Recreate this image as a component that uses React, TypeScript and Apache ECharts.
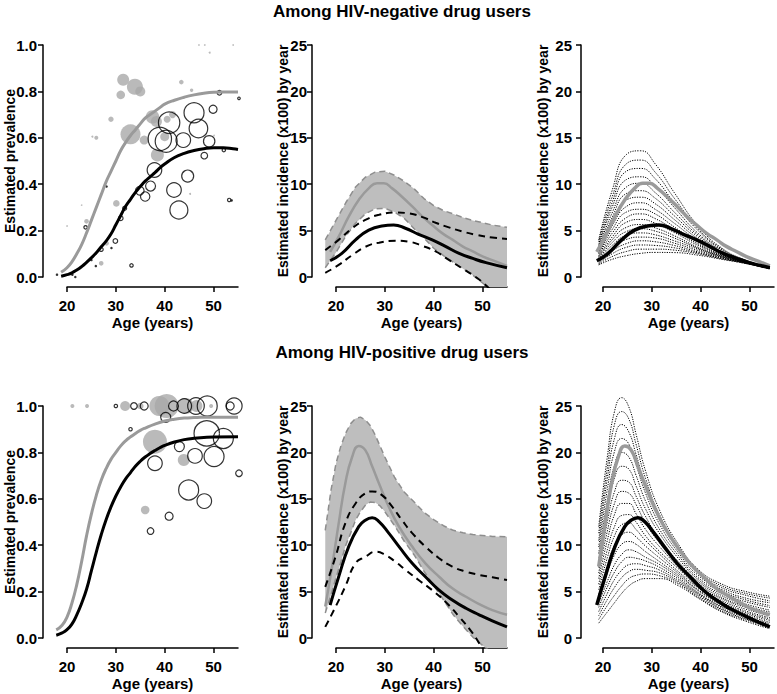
import React, { useEffect, useRef } from 'react';
import * as echarts from 'echarts';

const TITLE_TOP = 'Among HIV-negative drug users';
const TITLE_BOTTOM = 'Among HIV-positive drug users';
const X_NAME = 'Age (years)';
const Y_PREV = 'Estimated prevalence';
const Y_INC = 'Estimated incidence (x100) by year';

// ---------- Prevalence curves [age, prevalence] ----------
const NEG_PREV_GRAY = [[18.8,0.02],[20,0.04],[21,0.065],[22,0.10],[23,0.14],[24,0.19],[25,0.245],[26,0.30],[27,0.355],[28,0.41],[29,0.455],[30,0.50],[31,0.545],[32,0.58],[33,0.61],[34,0.635],[35,0.66],[36,0.685],[37,0.70],[38,0.715],[39,0.73],[40,0.745],[42,0.762],[44,0.775],[46,0.785],[48,0.792],[50,0.796],[52,0.797],[55,0.797]];
const NEG_PREV_BLACK = [[18.8,0.003],[20,0.01],[21,0.018],[22,0.03],[23,0.045],[24,0.063],[25,0.083],[26,0.105],[27,0.13],[28,0.155],[29,0.185],[30,0.225],[31,0.265],[32,0.305],[33,0.335],[34,0.365],[35,0.39],[36,0.413],[37,0.432],[38,0.45],[39,0.47],[40,0.487],[42,0.515],[44,0.533],[46,0.545],[48,0.553],[50,0.557],[52,0.557],[54,0.553],[55,0.55]];
const POS_PREV_GRAY = [[17.8,0.035],[19,0.055],[20,0.09],[21,0.15],[22,0.23],[23,0.33],[24,0.44],[25,0.535],[26,0.615],[27,0.68],[28,0.73],[29,0.77],[30,0.80],[31,0.828],[32,0.85],[33,0.867],[34,0.882],[35,0.895],[36,0.905],[38,0.922],[40,0.935],[42,0.943],[44,0.948],[46,0.95],[50,0.952],[55,0.952]];
const POS_PREV_BLACK = [[17.8,0.012],[19,0.022],[20,0.036],[21,0.06],[22,0.10],[23,0.15],[24,0.21],[25,0.29],[26,0.37],[27,0.445],[28,0.51],[29,0.565],[30,0.612],[31,0.652],[32,0.686],[33,0.713],[34,0.74],[35,0.762],[36,0.78],[37,0.795],[38,0.808],[39,0.82],[40,0.83],[42,0.845],[44,0.855],[46,0.861],[48,0.864],[50,0.866],[55,0.867]];

// ---------- Observed prevalences [age, prevalence, relative size] ----------
const NEG_OBS_GRAY = [[31.5,0.85,6],[33.9,0.82,8],[35,0.80,5],[31,0.785,4.3],[29,0.68,2.7],[33,0.615,10],[37.5,0.69,6.7],[38.3,0.67,5.5],[35.8,0.59,4.5],[38.5,0.526,6.5],[40.5,0.68,3.5],[41.6,0.70,3.5],[40,0.605,4.5],[43.4,0.84,2.3],[45.5,0.805,1.7],[26,0.60,2],[25.2,0.605,1],[30.1,0.317,3.3],[24,0.24,2.3],[28.1,0.145,2.3],[27,0.059,2.3],[49.2,0.967,1],[47,1.0,0.8],[48.2,1.0,0.8],[54,1.0,0.8],[45.2,0.358,1],[20,0.22,0.8],[23,0.31,0.8],[50.1,0.61,0.8]];
const NEG_OBS_BLACK = [[40.9,0.665,10.7],[39.0,0.595,11.7],[40.3,0.585,11],[46.0,0.708,10],[46.9,0.64,9.3],[43.8,0.59,7.3],[49.1,0.585,5.7],[49.9,0.723,4],[48.1,0.523,3.3],[37.9,0.461,7.3],[44.7,0.435,6],[41.9,0.375,7.3],[42.9,0.289,9],[37.1,0.392,5],[34.9,0.372,4.3],[36.0,0.347,4.7],[31.0,0.253,2.3],[31.8,0.296,2],[29.9,0.155,2.3],[27.0,0.119,2],[23.8,0.214,1.7],[33.2,0.05,1.7],[51.2,0.794,2.3],[52.1,0.547,1.7],[55.2,0.77,1.3],[53.2,0.332,1.7]];
const NEG_OBS_DOTS = [[17.95,0.01],[21.1,0.01],[21.7,0.0],[25,0.073],[25.9,0.047],[29.1,0.125],[28.1,0.39],[53.7,0.33]];
const POS_OBS_GRAY = [[21.1,1.0,2],[24.1,1.0,2],[31.9,1.0,5],[35.0,1.0,3.3],[38.9,1.0,10],[40.4,1.0,12],[44.3,1.0,8],[46.5,1.0,6],[49.5,1.0,2],[38.0,0.846,12],[43.9,0.767,6],[36.0,0.552,4.3]];
const POS_OBS_BLACK = [[30.0,1.0,1.7],[33.7,1.0,3.3],[35.8,1.0,4],[41.8,1.0,5],[44.0,1.0,7.3],[46.4,1.0,8.3],[48.7,1.0,10],[53.4,1.0,4],[54.2,1.0,8],[40.2,0.951,5],[33.0,0.9,1.7],[48.6,0.882,12.7],[52.0,0.86,10],[50.1,0.782,10],[46.2,0.785,7.3],[43.0,0.825,5],[38.0,0.753,7.3],[44.9,0.638,10],[48.1,0.59,7.3],[40.9,0.525,4],[37.1,0.461,3.3],[55.2,0.71,3.3]];

// ---------- Incidence, HIV-negative ----------
const NEG_INC_GRAY = [[18.8,2.7],[20.55,4.35],[22.6,6.5],[24.65,8.3],[26.7,9.55],[28.4,10.1],[29.8,10.1],[31.5,9.55],[33.5,8.65],[35.6,7.6],[37.7,6.5],[39.7,5.6],[41.8,4.7],[43.9,4.0],[45.9,3.3],[48,2.75],[50.1,2.2],[52.8,1.65],[55,1.2]];
const NEG_INC_BLACK = [[18.8,1.75],[21.2,2.55],[24,4.0],[26.7,5.05],[29.4,5.5],[31.8,5.6],[34.2,5.25],[36.9,4.6],[39.7,4.0],[42.4,3.3],[45.2,2.55],[48,2.0],[50.7,1.55],[55,1.0]];
const NEG_INC_BLACK_UP = [[17.8,2.9],[20.55,4.0],[23.3,5.25],[26,6.15],[28.8,6.7],[32.2,6.95],[34.9,6.85],[37.7,6.45],[40.4,5.85],[43.1,5.35],[45.9,4.9],[48.6,4.55],[52,4.25],[55,4.1]];
const NEG_INC_BLACK_LO = [[17.8,0.45],[20.55,1.3],[23.3,2.35],[26,3.25],[28.8,3.7],[32.2,3.9],[34.9,3.8],[37.7,3.35],[40.4,2.75],[43.1,1.85],[45.9,0.9],[48.6,0.0],[50.5,-0.8],[51.5,-1.3]];
const NEG_BAND_AGES = [17.8,20,22,24,26,28,30,32,34,36,38,40,42,44,46,48,50,52,55];
const NEG_BAND_UP = [4.0,6.1,8.0,9.7,10.75,11.3,11.4,10.95,10.3,9.5,8.45,7.7,7.15,6.8,6.4,6.1,5.85,5.6,5.35];
const NEG_BAND_LO = [1.0,2.65,4.4,5.8,6.8,7.35,7.4,7.0,6.3,5.2,4.2,3.1,2.3,1.6,0.9,0.2,-0.65,-1.5,-2.8];

// ---------- Incidence, HIV-positive ----------
const POS_INC_GRAY = [[17.8,3.4],[19.2,7.7],[20.55,12.35],[21.9,16.65],[23.3,19.5],[24.65,20.7],[26,20.25],[27.4,18.5],[28.8,16.65],[30.8,14.15],[32.9,12.0],[35.6,9.85],[38.3,8.05],[41.1,6.6],[43.8,5.35],[46.6,4.45],[49.3,3.65],[52,3.0],[55,2.5]];
const POS_INC_BLACK = [[18.8,3.55],[20.55,6.6],[22.6,9.85],[24.65,12.0],[26,12.7],[27.4,12.95],[28.8,12.55],[30.8,11.3],[32.9,9.85],[35.6,8.05],[38.3,6.6],[41.1,5.15],[43.8,4.1],[46.6,3.2],[49.3,2.5],[52,1.85],[55,1.2]];
const POS_INC_BLACK_UP = [[17.8,5.5],[19.9,8.75],[21.9,12.35],[24,14.5],[26,15.6],[27.4,15.8],[29.4,15.4],[31.5,14.15],[33.5,12.7],[35.6,11.3],[38.3,9.85],[41.1,8.6],[43.8,7.7],[46.6,7.15],[49.3,6.8],[52,6.55],[55,6.25]];
const POS_INC_BLACK_LO = [[17.8,1.2],[19.9,3.35],[21.9,5.55],[24,8.05],[26,8.75],[28.1,9.3],[30.1,8.95],[32.2,8.2],[34.2,7.35],[36.9,6.25],[39.7,5.15],[42.4,3.9],[45.2,2.3],[48,0.5],[49.3,-0.55],[50.3,-1.3]];
const POS_BAND_AGES = [17.8,19,20,21,22,23,24,25,26,27,28,29,30,32,34,36,38,40,42,44,46,48,50,52,55];
const POS_BAND_UP = [11.6,16.0,18.8,20.7,22.1,23.1,23.65,23.8,23.5,22.9,21.9,20.7,19.5,17.3,15.7,14.65,13.55,12.75,12.1,11.6,11.35,11.15,11.05,10.95,10.9];
const POS_BAND_LO = [2.7,4.7,6.5,8.2,10.0,11.3,12.7,13.6,14.3,14.65,14.6,14.25,13.6,12.1,10.4,8.95,7.2,5.65,4.1,2.5,1.25,0.1,-0.8,-1.6,-3.0];

// ---------- Simulated incidence curves (dotted) ----------
const NEG_FAN_AGES = [19.2,22,25,28,31,35,40,45,50,55];
const NEG_FAN = [
  [4.0,9.3,13.2,13.6,12.2,9.1,5.5,3.1,1.8,1.0],
  [3.8,8.6,12.2,12.6,11.3,8.5,5.2,3.0,1.8,1.0],
  [3.5,8.0,11.4,11.7,10.6,8.0,5.0,2.9,1.7,1.0],
  [3.3,7.5,10.5,10.8,9.8,7.5,4.7,2.8,1.7,1.0],
  [3.1,6.9,9.7,10.1,9.1,7.0,4.5,2.7,1.7,1.0],
  [3.0,6.4,9.0,9.3,8.5,6.6,4.3,2.6,1.7,1.0],
  [2.8,6.0,8.3,8.6,7.9,6.2,4.1,2.6,1.6,1.0],
  [2.6,5.5,7.6,8.0,7.3,5.8,3.9,2.5,1.6,0.95],
  [2.5,5.1,7.0,7.3,6.8,5.4,3.7,2.4,1.6,0.95],
  [2.3,4.7,6.4,6.8,6.3,5.1,3.55,2.35,1.6,0.95],
  [2.2,4.3,5.9,6.2,5.8,4.8,3.4,2.3,1.55,0.93],
  [2.1,4.0,5.35,5.65,5.3,4.45,3.2,2.25,1.55,0.93],
  [1.95,3.7,4.9,5.2,4.95,4.2,3.1,2.2,1.5,0.92],
  [1.85,3.4,4.5,4.75,4.55,3.9,3.0,2.15,1.5,0.92],
  [1.75,3.1,4.05,4.3,4.2,3.65,2.85,2.1,1.5,0.92],
  [1.6,2.8,3.6,3.9,3.8,3.4,2.7,2.05,1.5,0.91],
  [1.5,2.5,3.2,3.45,3.4,3.15,2.6,2.0,1.5,0.91],
  [1.4,2.2,2.75,3.0,3.0,2.9,2.5,1.95,1.45,0.9],
  [1.3,1.9,2.3,2.55,2.65,2.63,2.35,1.9,1.45,0.9],
];
const POS_FAN_AGES = [19.2,21,22.5,24,25.5,27,29,32,36,40,45,50,55];
const POS_FAN = [
  [12.0,19.5,24.4,25.9,24.9,22.0,18.0,13.7,10.0,7.4,5.8,5.0,4.5],
  [11.3,18.3,23.0,24.4,23.6,20.9,17.2,13.2,9.7,7.2,5.6,4.8,4.3],
  [10.5,17.2,21.5,23.0,22.2,19.8,16.4,12.7,9.4,7.0,5.4,4.6,4.0],
  [9.8,16.0,20.1,21.5,20.9,18.7,15.6,12.2,9.1,6.75,5.2,4.3,3.8],
  [9.1,14.8,18.6,20.0,19.5,17.55,14.75,11.65,8.8,6.5,5.0,4.1,3.5],
  [8.4,13.7,17.2,18.5,18.2,16.4,13.9,11.2,8.5,6.3,4.75,3.9,3.3],
  [7.6,12.5,15.75,17.0,16.8,15.3,13.1,10.6,8.15,6.1,4.55,3.65,3.0],
  [7.0,11.5,14.5,15.8,15.6,14.4,12.4,10.2,7.9,5.9,4.35,3.45,2.8],
  [6.4,10.5,13.3,14.5,14.5,13.4,11.7,9.8,7.6,5.7,4.2,3.3,2.6],
  [5.8,9.5,12.0,13.2,13.3,12.5,11.0,9.3,7.4,5.5,4.0,3.1,2.4],
  [5.2,8.65,11.0,12.2,12.4,11.7,10.5,9.0,7.1,5.4,3.85,2.9,2.2],
  [4.7,7.8,10.0,11.1,11.4,10.9,9.9,8.6,6.9,5.2,3.7,2.75,2.05],
  [4.2,7.0,8.95,10.1,10.4,10.1,9.3,8.2,6.7,5.1,3.55,2.6,1.9],
  [3.7,6.1,7.9,9.0,9.5,9.3,8.7,7.9,6.5,4.9,3.4,2.45,1.7],
  [3.3,5.5,7.1,8.2,8.7,8.6,8.3,7.6,6.3,4.8,3.3,2.3,1.55],
  [2.85,4.8,6.3,7.3,7.9,8.0,7.8,7.3,6.1,4.7,3.15,2.2,1.4],
  [2.4,4.15,5.45,6.5,7.15,7.4,7.3,7.0,5.95,4.55,3.05,2.05,1.3],
  [2.0,3.5,4.6,5.6,6.4,6.75,6.9,6.7,5.8,4.4,2.9,1.95,1.15],
  [1.6,2.8,3.8,4.8,5.6,6.1,6.4,6.4,5.6,4.3,2.8,1.8,1.0],
];

// ---------- Layout ----------
const FONT = "'Liberation Sans', Arial, Helvetica, sans-serif";
const COLS = [
  { x20: 67, x55: 238, axisX: 43, nameGap: 26, labelMargin: 6 },
  { x20: 336, x55: 507, axisX: 312, nameGap: 22, labelMargin: 5 },
  { x20: 603, x55: 774, axisX: 581, nameGap: 31, labelMargin: 9 },
];
const ROWS = [
  { yTop: 45, y0: 277, axisY: 287 },
  { yTop: 406, y0: 638, axisY: 648 },
];
const PANELS = [
  { row: 0, col: 0, kind: 'prev' }, { row: 0, col: 1, kind: 'inc' }, { row: 0, col: 2, kind: 'inc' },
  { row: 1, col: 0, kind: 'prev' }, { row: 1, col: 1, kind: 'inc' }, { row: 1, col: 2, kind: 'inc' },
];

const GRAY_LINE = '#9a9a9a';
const GRAY_PT = '#a9a9a9';
const BAND = '#bebebe';
const BAND_EDGE = '#8e8e8e';

function buildOption() {
  const grid: any[] = [];
  const xAxis: any[] = [];
  const yAxis: any[] = [];
  const series: any[] = [];
  const boldText = { color: '#000', fontWeight: 'bold', fontFamily: FONT };

  PANELS.forEach((p, i) => {
    const c = COLS[p.col];
    const r = ROWS[p.row];
    const tickMax = p.kind === 'prev' ? 1 : 25;
    const ppx = (c.x55 - c.x20) / 35;
    const ppy = (r.y0 - r.yTop) / tickMax;
    grid[i] = { left: c.x20, top: r.yTop, width: c.x55 - c.x20, height: r.y0 - r.yTop };
    xAxis[i] = {
      gridIndex: i, type: 'value', min: 20, max: 55, interval: 10, offset: r.axisY - r.y0,
      axisLine: { show: true, onZero: false, lineStyle: { color: '#000', width: 1.5 } },
      axisTick: { show: true, length: 5, lineStyle: { color: '#000', width: 1.5 } },
      axisLabel: { show: true, showMaxLabel: false, margin: 11, fontSize: 15, ...boldText },
      splitLine: { show: false },
      name: X_NAME, nameLocation: 'middle', nameGap: 28, nameMoveOverlap: false,
      nameTextStyle: { fontSize: 15, ...boldText },
    };
    yAxis[i] = {
      gridIndex: i, type: 'value', min: 0, max: tickMax, interval: p.kind === 'prev' ? 0.2 : 5,
      offset: c.x20 - c.axisX,
      axisLine: { show: true, onZero: false, lineStyle: { color: '#000', width: 1.5 } },
      axisTick: { show: true, length: 5, lineStyle: { color: '#000', width: 1.5 } },
      axisLabel: {
        show: true, margin: c.labelMargin, fontSize: 15, ...boldText,
        formatter: p.kind === 'prev' ? (v: number) => v.toFixed(1) : (v: number) => String(v),
      },
      splitLine: { show: false },
      name: p.kind === 'prev' ? Y_PREV : Y_INC, nameLocation: 'middle', nameRotate: 90, nameGap: c.nameGap,
      nameMoveOverlap: false,
      nameTextStyle: { fontSize: 14, ...boldText },
    };
    // data grid = full plotting region
    const x0 = 20 - (c.x20 - c.axisX) / ppx;
    const x1 = 56.5;
    const ymin = -(r.axisY - r.y0) / ppy;
    const ymax = tickMax * 1.04;
    const d = 6 + i;
    grid[d] = { left: c.axisX, top: r.y0 - ymax * ppy, width: (x1 - x0) * ppx, height: (ymax - ymin) * ppy };
    xAxis[d] = { gridIndex: d, type: 'value', min: x0, max: x1, show: false };
    yAxis[d] = { gridIndex: d, type: 'value', min: ymin, max: ymax, show: false };
  });

  const line = (p: number, data: number[][], color: string, width: number, type: any, extra: any = {}) => ({
    type: 'line', xAxisIndex: 6 + p, yAxisIndex: 6 + p, data, symbol: 'none', showSymbol: false,
    smooth: true, silent: true, clip: true, lineStyle: { color, width, type }, ...extra,
  });
  const scatter = (p: number, data: number[][], itemStyle: any, size: any) => ({
    type: 'scatter', xAxisIndex: 6 + p, yAxisIndex: 6 + p, data, symbol: 'circle', symbolSize: size,
    itemStyle, silent: true, clip: false,
  });
  const bySize = (v: number[]) => v[2] * 2;
  const openStyle = { color: 'rgba(0,0,0,0)', borderColor: '#000', borderWidth: 1.2 };
  const band = (p: number, ages: number[], lo: number[], up: number[]) => {
    const outline = [
      ...ages.map((a, k) => [a, up[k]]),
      ...ages.map((a, k) => [a, lo[k]]).reverse(),
    ];
    return [
      {
        type: 'custom', xAxisIndex: 6 + p, yAxisIndex: 6 + p, data: [[ages[0], lo[0]]], clip: true, silent: true,
        renderItem: (_params: any, api: any) => ({
          type: 'polygon',
          shape: { points: outline.map((pt) => api.coord(pt)) },
          style: { fill: BAND },
        }),
      },
      line(p, ages.map((a, k) => [a, up[k]]), BAND_EDGE, 1.5, [6, 4], { smooth: false }),
      line(p, ages.map((a, k) => [a, lo[k]]), BAND_EDGE, 1.5, [6, 4], { smooth: false }),
    ];
  };
  const fan = (p: number, ages: number[], rows: number[][]) =>
    rows.map((row) => line(p, ages.map((a, k) => [a, row[k]]), '#000', 1, [1.2, 1.3]));

  // Panel 0: HIV-negative prevalence
  series.push(scatter(0, NEG_OBS_GRAY, { color: GRAY_PT }, bySize));
  series.push(scatter(0, NEG_OBS_BLACK, openStyle, bySize));
  series.push(scatter(0, NEG_OBS_DOTS, { color: '#000' }, 2.5));
  series.push(line(0, NEG_PREV_GRAY, GRAY_LINE, 3, 'solid'));
  series.push(line(0, NEG_PREV_BLACK, '#000', 3, 'solid'));

  // Panel 1: HIV-negative incidence with bands
  series.push(...band(1, NEG_BAND_AGES, NEG_BAND_LO, NEG_BAND_UP));
  series.push(line(1, NEG_INC_GRAY, GRAY_LINE, 2.5, 'solid'));
  series.push(line(1, NEG_INC_BLACK_UP, '#000', 2, [7, 5]));
  series.push(line(1, NEG_INC_BLACK_LO, '#000', 2, [7, 5]));
  series.push(line(1, NEG_INC_BLACK, '#000', 3, 'solid'));

  // Panel 2: HIV-negative simulated curves
  series.push(...fan(2, NEG_FAN_AGES, NEG_FAN));
  series.push(line(2, NEG_INC_GRAY, GRAY_LINE, 3.5, 'solid'));
  series.push(line(2, NEG_INC_BLACK, '#000', 3.5, 'solid'));

  // Panel 3: HIV-positive prevalence
  series.push(scatter(3, POS_OBS_GRAY, { color: GRAY_PT }, bySize));
  series.push(scatter(3, POS_OBS_BLACK, openStyle, bySize));
  series.push(line(3, POS_PREV_GRAY, GRAY_LINE, 3, 'solid'));
  series.push(line(3, POS_PREV_BLACK, '#000', 3, 'solid'));

  // Panel 4: HIV-positive incidence with bands
  series.push(...band(4, POS_BAND_AGES, POS_BAND_LO, POS_BAND_UP));
  series.push(line(4, POS_INC_GRAY, GRAY_LINE, 2.5, 'solid'));
  series.push(line(4, POS_INC_BLACK_UP, '#000', 2, [7, 5]));
  series.push(line(4, POS_INC_BLACK_LO, '#000', 2, [7, 5]));
  series.push(line(4, POS_INC_BLACK, '#000', 3, 'solid'));

  // Panel 5: HIV-positive simulated curves
  series.push(...fan(5, POS_FAN_AGES, POS_FAN));
  series.push(line(5, POS_INC_GRAY.filter((pt) => pt[0] >= 19), GRAY_LINE, 3.5, 'solid'));
  series.push(line(5, POS_INC_BLACK, '#000', 3.5, 'solid'));

  return {
    animation: false,
    backgroundColor: '#fff',
    textStyle: { fontFamily: FONT },
    title: [
      { text: TITLE_TOP, left: 397, top: -2, textAlign: 'center', textStyle: { fontSize: 17, ...boldText } },
      { text: TITLE_BOTTOM, left: 397, top: 339, textAlign: 'center', textStyle: { fontSize: 17, ...boldText } },
    ],
    grid, xAxis, yAxis, series,
  };
}

export default function App() {
  const ref = useRef<HTMLDivElement>(null);
  useEffect(() => {
    const chart = echarts.init(ref.current as HTMLDivElement, null, { renderer: 'svg' });
    chart.setOption(buildOption() as any);
    return () => chart.dispose();
  }, []);
  return <div ref={ref} style={{ position: 'absolute', left: 0, top: 0, width: 777, height: 694 }} />;
}
